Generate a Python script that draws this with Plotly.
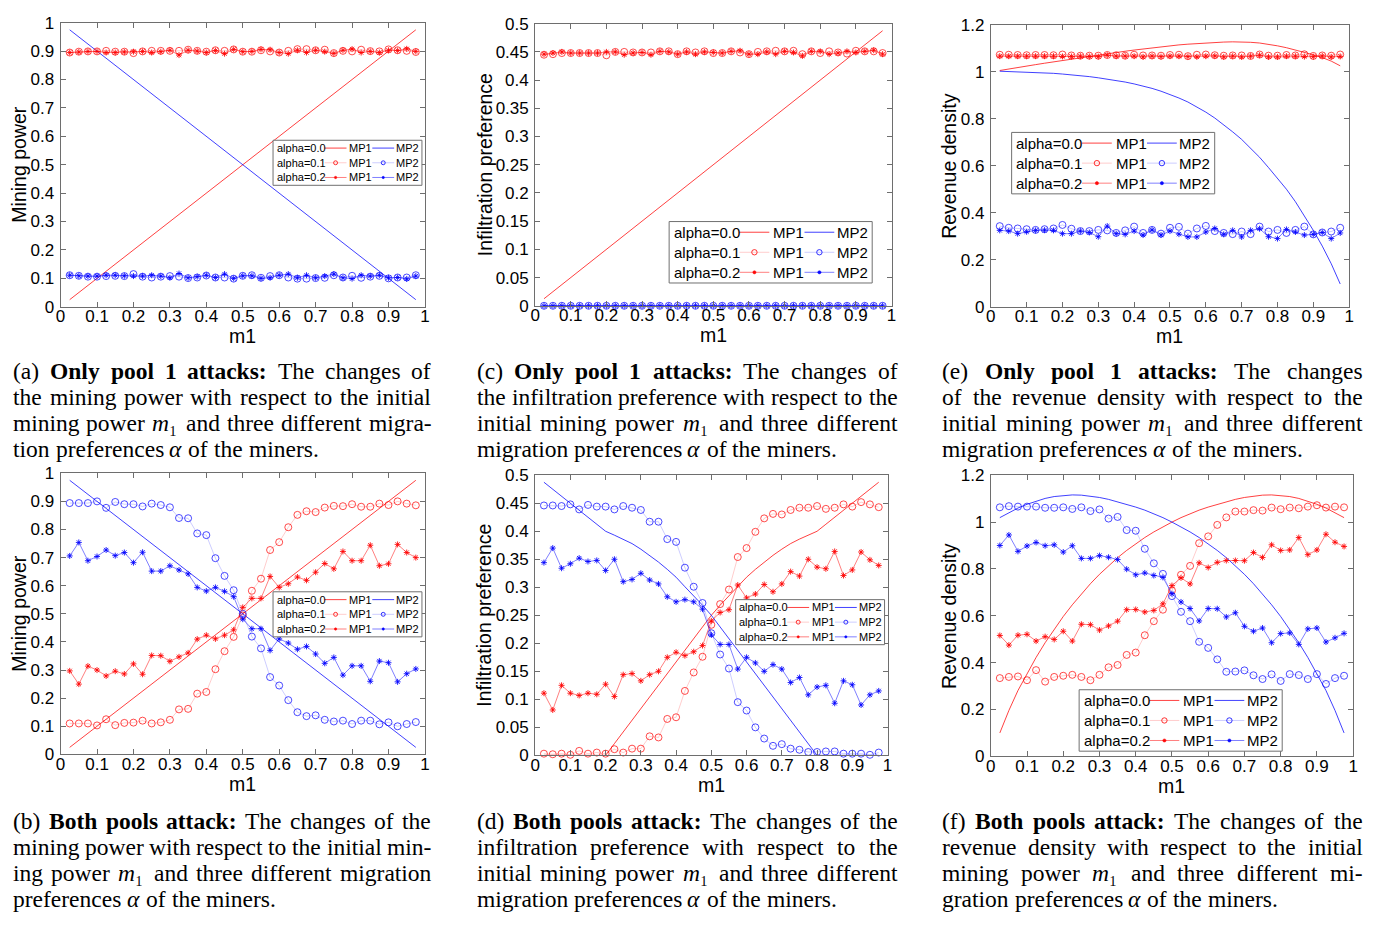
import plotly.graph_objects as go

# ------------------------------------------------------------------ data
m1 = [0.025, 0.05, 0.075, 0.1, 0.125, 0.15, 0.175, 0.2, 0.225, 0.25, 0.275, 0.3, 0.325,
      0.35, 0.375, 0.4, 0.425, 0.45, 0.475, 0.5, 0.525, 0.55, 0.575, 0.6, 0.625, 0.65,
      0.675, 0.7, 0.725, 0.75, 0.775, 0.8, 0.825, 0.85, 0.875, 0.9, 0.925, 0.95, 0.975]

x_ticks = [0, 0.1, 0.2, 0.3, 0.4, 0.5, 0.6, 0.7, 0.8, 0.9, 1.0]
x_ticklabels = ["0", "0.1", "0.2", "0.3", "0.4", "0.5", "0.6", "0.7", "0.8", "0.9", "1"]
mp_ticks = [0, 0.1, 0.2, 0.3, 0.4, 0.5, 0.6, 0.7, 0.8, 0.9, 1.0]
mp_ticklabels = ["0", "0.1", "0.2", "0.3", "0.4", "0.5", "0.6", "0.7", "0.8", "0.9", "1"]
ip_ticks = [0, 0.05, 0.1, 0.15, 0.2, 0.25, 0.3, 0.35, 0.4, 0.45, 0.5]
ip_ticklabels = ["0", "0.05", "0.1", "0.15", "0.2", "0.25", "0.3", "0.35", "0.4", "0.45", "0.5"]
rd_ticks = [0, 0.2, 0.4, 0.6, 0.8, 1.0, 1.2]
rd_ticklabels = ["0", "0.2", "0.4", "0.6", "0.8", "1", "1.2"]

zeros = [0.0, 0.0, 0.0, 0.0, 0.0, 0.0, 0.0, 0.0, 0.0, 0.0, 0.0, 0.0, 0.0, 0.0, 0.0, 0.0,
         0.0, 0.0, 0.0, 0.0, 0.0, 0.0, 0.0, 0.0, 0.0, 0.0, 0.0, 0.0, 0.0, 0.0, 0.0, 0.0,
         0.0, 0.0, 0.0, 0.0, 0.0, 0.0, 0.0]

# (a) only pool 1 attacks - mining power
a_mp1_a00 = [0.025, 0.05, 0.075, 0.1, 0.125, 0.15, 0.175, 0.2, 0.225, 0.25, 0.275, 0.3, 0.325,
             0.35, 0.375, 0.4, 0.425, 0.45, 0.475, 0.5, 0.525, 0.55, 0.575, 0.6, 0.625, 0.65,
             0.675, 0.7, 0.725, 0.75, 0.775, 0.8, 0.825, 0.85, 0.875, 0.9, 0.925, 0.95, 0.975]
a_mp2_a00 = [0.975, 0.95, 0.925, 0.9, 0.875, 0.85, 0.825, 0.8, 0.775, 0.75, 0.725, 0.7, 0.675,
             0.65, 0.625, 0.6, 0.575, 0.55, 0.525, 0.5, 0.475, 0.45, 0.425, 0.4, 0.375, 0.35,
             0.325, 0.3, 0.275, 0.25, 0.225, 0.2, 0.175, 0.15, 0.125, 0.1, 0.075, 0.05, 0.025]
a_mp1_a01 = [0.895, 0.898, 0.899, 0.899, 0.901, 0.898, 0.898, 0.893, 0.899, 0.901, 0.901, 0.901, 0.901,
             0.905, 0.901, 0.898, 0.903, 0.901, 0.906, 0.898, 0.898, 0.903, 0.899, 0.895, 0.901, 0.907,
             0.907, 0.903, 0.905, 0.893, 0.901, 0.899, 0.905, 0.900, 0.899, 0.906, 0.903, 0.901, 0.897]
a_mp2_a01 = [0.111, 0.109, 0.106, 0.106, 0.108, 0.109, 0.108, 0.115, 0.106, 0.103, 0.106, 0.108, 0.106,
             0.101, 0.103, 0.110, 0.103, 0.103, 0.099, 0.109, 0.111, 0.102, 0.108, 0.111, 0.103, 0.099,
             0.099, 0.101, 0.102, 0.111, 0.103, 0.109, 0.102, 0.106, 0.109, 0.100, 0.103, 0.103, 0.111]
a_mp1_a02 = [0.895, 0.897, 0.899, 0.899, 0.895, 0.895, 0.897, 0.898, 0.899, 0.895, 0.898, 0.903, 0.886,
             0.903, 0.900, 0.895, 0.902, 0.891, 0.906, 0.898, 0.899, 0.906, 0.905, 0.895, 0.891, 0.903,
             0.895, 0.903, 0.898, 0.892, 0.903, 0.907, 0.895, 0.899, 0.895, 0.903, 0.902, 0.908, 0.899]
a_mp2_a02 = [0.111, 0.109, 0.108, 0.108, 0.111, 0.111, 0.109, 0.108, 0.108, 0.111, 0.108, 0.102, 0.117,
             0.102, 0.106, 0.111, 0.103, 0.115, 0.100, 0.109, 0.109, 0.100, 0.102, 0.111, 0.115, 0.102,
             0.111, 0.102, 0.108, 0.115, 0.102, 0.099, 0.111, 0.108, 0.111, 0.102, 0.103, 0.098, 0.108]

# (b) both pools attack - mining power
b_mp1_a00 = a_mp1_a00
b_mp2_a00 = a_mp2_a00
b_mp1_a01 = [0.110, 0.110, 0.110, 0.103, 0.125, 0.104, 0.112, 0.113, 0.120, 0.110, 0.114, 0.123, 0.160,
             0.162, 0.216, 0.222, 0.303, 0.367, 0.418, 0.494, 0.582, 0.625, 0.727, 0.755, 0.808, 0.852,
             0.865, 0.862, 0.878, 0.884, 0.883, 0.890, 0.881, 0.881, 0.892, 0.887, 0.900, 0.892, 0.886]
b_mp2_a01 = [0.894, 0.894, 0.894, 0.900, 0.877, 0.898, 0.890, 0.890, 0.882, 0.892, 0.887, 0.879, 0.841,
             0.840, 0.786, 0.780, 0.698, 0.635, 0.584, 0.500, 0.419, 0.377, 0.275, 0.245, 0.193, 0.150,
             0.136, 0.139, 0.123, 0.117, 0.120, 0.108, 0.120, 0.120, 0.107, 0.114, 0.100, 0.108, 0.115]
b_mp1_a02 = [0.297, 0.250, 0.314, 0.300, 0.279, 0.296, 0.286, 0.322, 0.285, 0.352, 0.351, 0.331, 0.347,
             0.361, 0.410, 0.424, 0.411, 0.424, 0.443, 0.523, 0.555, 0.555, 0.633, 0.594, 0.607, 0.631,
             0.619, 0.648, 0.679, 0.660, 0.722, 0.689, 0.689, 0.744, 0.671, 0.678, 0.747, 0.718, 0.700]
b_mp2_a02 = [0.706, 0.754, 0.689, 0.704, 0.727, 0.707, 0.718, 0.682, 0.719, 0.652, 0.652, 0.671, 0.656,
             0.642, 0.594, 0.581, 0.594, 0.580, 0.561, 0.481, 0.447, 0.447, 0.370, 0.411, 0.396, 0.374,
             0.384, 0.357, 0.324, 0.345, 0.282, 0.315, 0.315, 0.260, 0.332, 0.326, 0.258, 0.287, 0.304]

# (c) only pool 1 attacks - infiltration preference
c_mp1_a00 = [0.0125, 0.025, 0.0375, 0.05, 0.0625, 0.075, 0.0875, 0.1, 0.1125, 0.125, 0.1375, 0.15,
             0.1625, 0.175, 0.1875, 0.2, 0.2125, 0.225, 0.2375, 0.25, 0.2625, 0.275, 0.2875, 0.3,
             0.3125, 0.325, 0.3375, 0.35, 0.3625, 0.375, 0.3875, 0.4, 0.4125, 0.425, 0.4375, 0.45,
             0.4625, 0.475, 0.4875]
c_mp2_a00 = zeros
c_mp1_a01 = [0.445, 0.446, 0.448, 0.448, 0.448, 0.448, 0.448, 0.444, 0.450, 0.450, 0.449, 0.449, 0.449,
             0.451, 0.451, 0.446, 0.451, 0.449, 0.451, 0.448, 0.448, 0.451, 0.449, 0.446, 0.450, 0.451,
             0.452, 0.451, 0.452, 0.446, 0.451, 0.448, 0.451, 0.449, 0.447, 0.452, 0.451, 0.451, 0.448]
c_mp2_a01 = zeros
c_mp1_a02 = [0.446, 0.448, 0.450, 0.448, 0.448, 0.448, 0.448, 0.450, 0.450, 0.445, 0.448, 0.449, 0.445,
             0.451, 0.450, 0.446, 0.450, 0.446, 0.450, 0.449, 0.448, 0.451, 0.452, 0.446, 0.446, 0.450,
             0.446, 0.451, 0.449, 0.443, 0.451, 0.451, 0.446, 0.448, 0.451, 0.449, 0.451, 0.453, 0.446]
c_mp2_a02 = zeros

# (d) both pools attack - infiltration preference
d_mp1_a00 = [0.0, 0.0, 0.0, 0.0, 0.0, 0.0, 0.0, 0.0, 0.021, 0.042, 0.063, 0.083, 0.104, 0.125, 0.146,
             0.167, 0.188, 0.208, 0.229, 0.250, 0.268, 0.285, 0.301, 0.318, 0.332, 0.345, 0.357, 0.368,
             0.378, 0.386, 0.393, 0.400, 0.4125, 0.425, 0.4375, 0.450, 0.4625, 0.475, 0.4875]
d_mp2_a00 = [0.4875, 0.475, 0.4625, 0.450, 0.4375, 0.425, 0.4125, 0.400, 0.393, 0.386, 0.378, 0.368,
             0.357, 0.345, 0.332, 0.318, 0.301, 0.285, 0.268, 0.250, 0.229, 0.208, 0.188, 0.167, 0.146,
             0.125, 0.104, 0.083, 0.063, 0.042, 0.021, 0.0, 0.0, 0.0, 0.0, 0.0, 0.0, 0.0, 0.0]
d_mp1_a01 = [0.003, 0.002, 0.003, 0.001, 0.008, 0.003, 0.005, 0.003, 0.011, 0.005, 0.012, 0.012, 0.034,
             0.032, 0.065, 0.068, 0.115, 0.148, 0.176, 0.233, 0.270, 0.296, 0.354, 0.370, 0.399, 0.423,
             0.431, 0.430, 0.438, 0.442, 0.442, 0.445, 0.440, 0.442, 0.448, 0.444, 0.452, 0.448, 0.443]
d_mp2_a01 = [0.446, 0.446, 0.445, 0.448, 0.439, 0.447, 0.444, 0.444, 0.439, 0.445, 0.442, 0.438, 0.417,
             0.417, 0.386, 0.381, 0.335, 0.301, 0.272, 0.218, 0.180, 0.155, 0.095, 0.080, 0.050, 0.030,
             0.017, 0.020, 0.012, 0.010, 0.006, 0.006, 0.007, 0.007, 0.003, 0.003, 0.003, 0.001, 0.005]
d_mp1_a02 = [0.111, 0.081, 0.125, 0.111, 0.107, 0.111, 0.109, 0.127, 0.105, 0.144, 0.146, 0.133, 0.144,
             0.150, 0.175, 0.184, 0.178, 0.185, 0.196, 0.240, 0.255, 0.260, 0.304, 0.281, 0.288, 0.305,
             0.292, 0.306, 0.328, 0.320, 0.350, 0.336, 0.333, 0.364, 0.321, 0.331, 0.363, 0.349, 0.339]
d_mp2_a02 = [0.344, 0.370, 0.334, 0.342, 0.352, 0.346, 0.348, 0.330, 0.350, 0.310, 0.314, 0.325, 0.313,
             0.306, 0.283, 0.274, 0.278, 0.274, 0.261, 0.215, 0.198, 0.198, 0.154, 0.175, 0.165, 0.150,
             0.162, 0.154, 0.130, 0.139, 0.108, 0.122, 0.125, 0.093, 0.133, 0.126, 0.090, 0.108, 0.115]

# (e) only pool 1 attacks - revenue density
e_mp1_a00 = [1.005, 1.012, 1.018, 1.024, 1.030, 1.036, 1.042, 1.048, 1.054, 1.060, 1.066, 1.071, 1.077,
             1.082, 1.087, 1.092, 1.097, 1.102, 1.107, 1.111, 1.114, 1.117, 1.120, 1.122, 1.124, 1.126,
             1.127, 1.127, 1.125, 1.122, 1.117, 1.110, 1.102, 1.093, 1.083, 1.072, 1.060, 1.045, 1.025]
e_mp2_a00 = [1.002, 1.001, 1.000, 0.999, 0.997, 0.995, 0.993, 0.990, 0.987, 0.983, 0.979, 0.974, 0.969,
             0.963, 0.956, 0.948, 0.939, 0.929, 0.917, 0.903, 0.888, 0.871, 0.851, 0.828, 0.803, 0.775,
             0.744, 0.712, 0.676, 0.636, 0.592, 0.548, 0.500, 0.447, 0.388, 0.325, 0.258, 0.183, 0.097]
e_mp1_a01 = [1.072, 1.072, 1.071, 1.070, 1.071, 1.071, 1.070, 1.073, 1.069, 1.068, 1.068, 1.068, 1.071,
             1.070, 1.068, 1.072, 1.069, 1.069, 1.068, 1.071, 1.072, 1.066, 1.072, 1.073, 1.070, 1.068,
             1.069, 1.069, 1.067, 1.073, 1.068, 1.068, 1.071, 1.069, 1.074, 1.067, 1.069, 1.068, 1.073]
e_mp2_a01 = [0.343, 0.336, 0.333, 0.330, 0.327, 0.330, 0.333, 0.348, 0.332, 0.322, 0.322, 0.327, 0.325,
             0.314, 0.325, 0.341, 0.314, 0.327, 0.311, 0.336, 0.340, 0.311, 0.333, 0.344, 0.322, 0.314,
             0.309, 0.320, 0.309, 0.341, 0.320, 0.327, 0.314, 0.327, 0.341, 0.308, 0.316, 0.320, 0.336]
e_mp1_a02 = [1.066, 1.066, 1.066, 1.066, 1.066, 1.066, 1.066, 1.065, 1.065, 1.066, 1.065, 1.064, 1.070,
             1.066, 1.066, 1.066, 1.063, 1.066, 1.064, 1.066, 1.066, 1.064, 1.063, 1.066, 1.067, 1.063,
             1.066, 1.063, 1.066, 1.070, 1.063, 1.063, 1.066, 1.066, 1.064, 1.064, 1.067, 1.063, 1.065]
e_mp2_a02 = [0.325, 0.322, 0.311, 0.319, 0.325, 0.326, 0.325, 0.311, 0.311, 0.322, 0.316, 0.298, 0.343,
             0.311, 0.308, 0.322, 0.305, 0.327, 0.305, 0.322, 0.309, 0.297, 0.297, 0.318, 0.333, 0.308,
             0.325, 0.297, 0.325, 0.332, 0.298, 0.290, 0.329, 0.318, 0.305, 0.308, 0.316, 0.290, 0.314]

# (f) both pools attack - revenue density
f_mp1_a00 = [0.100, 0.196, 0.281, 0.354, 0.422, 0.485, 0.543, 0.597, 0.647, 0.694, 0.737, 0.777, 0.814,
             0.848, 0.879, 0.908, 0.934, 0.958, 0.980, 1.000, 1.019, 1.036, 1.051, 1.064, 1.076, 1.087,
             1.097, 1.105, 1.111, 1.115, 1.116, 1.114, 1.109, 1.101, 1.090, 1.076, 1.060, 1.041, 1.019]
f_mp2_a00 = [1.019, 1.041, 1.060, 1.076, 1.090, 1.101, 1.109, 1.114, 1.116, 1.115, 1.111, 1.105, 1.097,
             1.087, 1.076, 1.064, 1.051, 1.036, 1.019, 1.000, 0.980, 0.958, 0.934, 0.908, 0.879, 0.848,
             0.814, 0.777, 0.737, 0.694, 0.647, 0.597, 0.543, 0.485, 0.422, 0.354, 0.281, 0.196, 0.100]
f_mp1_a01 = [0.334, 0.339, 0.341, 0.325, 0.368, 0.319, 0.339, 0.344, 0.348, 0.339, 0.325, 0.348, 0.380,
             0.390, 0.433, 0.443, 0.517, 0.577, 0.626, 0.708, 0.775, 0.813, 0.910, 0.939, 0.988, 1.020,
             1.045, 1.045, 1.051, 1.049, 1.062, 1.055, 1.062, 1.059, 1.066, 1.072, 1.062, 1.066, 1.063]
f_mp2_a01 = [1.063, 1.068, 1.066, 1.066, 1.066, 1.061, 1.061, 1.063, 1.056, 1.063, 1.047, 1.054, 1.015,
             1.022, 0.966, 0.963, 0.886, 0.824, 0.779, 0.684, 0.617, 0.577, 0.489, 0.463, 0.414, 0.361,
             0.362, 0.367, 0.346, 0.330, 0.350, 0.322, 0.351, 0.347, 0.330, 0.351, 0.309, 0.334, 0.344]
f_mp1_a02 = [0.516, 0.475, 0.517, 0.521, 0.492, 0.511, 0.499, 0.534, 0.492, 0.564, 0.562, 0.539, 0.557,
             0.577, 0.626, 0.627, 0.616, 0.623, 0.651, 0.729, 0.762, 0.736, 0.826, 0.806, 0.828, 0.836,
             0.836, 0.835, 0.870, 0.849, 0.903, 0.879, 0.881, 0.934, 0.861, 0.881, 0.948, 0.914, 0.896]
f_mp2_a02 = [0.900, 0.945, 0.875, 0.898, 0.913, 0.899, 0.903, 0.872, 0.899, 0.845, 0.845, 0.857, 0.850,
             0.840, 0.799, 0.775, 0.783, 0.772, 0.764, 0.694, 0.659, 0.631, 0.578, 0.631, 0.630, 0.595,
             0.613, 0.555, 0.534, 0.548, 0.485, 0.524, 0.527, 0.478, 0.544, 0.548, 0.488, 0.506, 0.525]

legend_rows = ["alpha=0.0", "alpha=0.1", "alpha=0.2"]
legend_names = ["MP1", "MP2"]

captions = {
    "a": ["(a) **Only** **pool** **1** **attacks:** The changes of",
          "the mining power with respect to the initial",
          "mining power $m1$ and three different migra-",
          "tion preferences $a$ of the miners."],
    "c": ["(c) **Only** **pool** **1** **attacks:** The changes of",
          "the infiltration preference with respect to the",
          "initial mining power $m1$ and three different",
          "migration preferences $a$ of the miners."],
    "e": ["(e) **Only** **pool** **1** **attacks:** The changes",
          "of the revenue density with respect to the",
          "initial mining power $m1$ and three different",
          "migration preferences $a$ of the miners."],
    "b": ["(b) **Both** **pools** **attack:** The changes of the",
          "mining power with respect to the initial min-",
          "ing power $m1$ and three different migration",
          "preferences $a$ of the miners."],
    "d": ["(d) **Both** **pools** **attack:** The changes of the",
          "infiltration preference with respect to the",
          "initial mining power $m1$ and three different",
          "migration preferences $a$ of the miners."],
    "f": ["(f) **Both** **pools** **attack:** The changes of the",
          "revenue density with respect to the initial",
          "mining power $m1$ and three different mi-",
          "gration preferences $a$ of the miners."],
}

# ------------------------------------------------------------------ page geometry
W, H = 1376, 926
SANS = "Liberation Sans, Arial, Helvetica, sans-serif"
SERIF = "Liberation Serif, Times New Roman, serif"
FRAME = "#6e6e6e"
RED = "255,0,0"
BLUE = "0,0,255"


def fx(p):
    return p / W


def fy(p):
    return 1 - p / H


def rgba(c, a):
    return f"rgba({c},{a})"


panels = [
    dict(key="a", box=(56, 14, 423, 304), yr=[0, 1], yt=(mp_ticks, mp_ticklabels),
         ytitle="Mining power", ytx=14,
         series=[(a_mp1_a00, a_mp2_a00), (a_mp1_a01, a_mp2_a01), (a_mp1_a02, a_mp2_a02)],
         legend=(270, 134, 11), cap=(7, 428, "top")),
    dict(key="c", box=(534, 15, 893, 303), yr=[0, 0.5], yt=(ip_ticks, ip_ticklabels),
         ytitle="Infiltration preference", ytx=483,
         series=[(c_mp1_a00, c_mp2_a00), (c_mp1_a01, c_mp2_a01), (c_mp1_a02, c_mp2_a02)],
         legend=(669, 217, 15), cap=(474, 898, "top")),
    dict(key="e", box=(993, 16, 1354, 304), yr=[0, 1.2], yt=(rd_ticks, rd_ticklabels),
         ytitle="Revenue density", ytx=951,
         series=[(e_mp1_a00, e_mp2_a00), (e_mp1_a01, e_mp2_a01), (e_mp1_a02, e_mp2_a02)],
         legend=(1014, 126, 15), cap=(943, 1366, "top")),
    dict(key="b", box=(56, 474, 423, 761), yr=[0, 1], yt=(mp_ticks, mp_ticklabels),
         ytitle="Mining power", ytx=14,
         series=[(b_mp1_a00, b_mp2_a00), (b_mp1_a01, b_mp2_a01), (b_mp1_a02, b_mp2_a02)],
         legend=(270, 595, 11), cap=(7, 428, "bottom")),
    dict(key="d", box=(534, 476, 889, 762), yr=[0, 0.5], yt=(ip_ticks, ip_ticklabels),
         ytitle="Infiltration preference", ytx=483,
         series=[(d_mp1_a00, d_mp2_a00), (d_mp1_a01, d_mp2_a01), (d_mp1_a02, d_mp2_a02)],
         legend=(736, 603, 11), cap=(474, 898, "bottom")),
    dict(key="f", box=(993, 476, 1358, 763), yr=[0, 1.2], yt=(rd_ticks, rd_ticklabels),
         ytitle="Revenue density", ytx=951,
         series=[(f_mp1_a00, f_mp2_a00), (f_mp1_a01, f_mp2_a01), (f_mp1_a02, f_mp2_a02)],
         legend=(1082, 695, 15), cap=(943, 1366, "bottom")),
]

CAPTION_BASELINES = {"top": [376.0, 402.5, 429.0, 455.5],
                     "bottom": [836.0, 862.5, 889.0, 915.5]}
CAP_FS = 23.5


def trace_style(row, c):
    if row == 0:
        return dict(mode="lines", line=dict(color=rgba(c, 0.75), width=1))
    if row == 1:
        return dict(mode="lines+markers", line=dict(color=rgba(c, 0.2), width=1),
                    marker=dict(symbol="circle-open", size=7, color=rgba(c, 0.7),
                                line=dict(width=1)))
    return dict(mode="lines+markers", line=dict(color=rgba(c, 0.5), width=1),
                marker=dict(symbol="asterisk-open", size=5, color=rgba(c, 0.85),
                            line=dict(width=1)))


fig = go.Figure()
shapes = []
annotations = []
layout_axes = {}

for i, p in enumerate(panels, start=1):
    sfx = "" if i == 1 else str(i)
    x0, y0, x1, y1 = p["box"]
    for row, (s1, s2) in enumerate(p["series"]):
        for vals, c in ((s1, RED), (s2, BLUE)):
            fig.add_trace(go.Scatter(x=m1, y=vals, xaxis="x" + sfx, yaxis="y" + sfx,
                                     showlegend=False, cliponaxis=False, hoverinfo="skip",
                                     **trace_style(row, c)))
    common = dict(showline=True, linecolor=FRAME, linewidth=1, mirror="ticks",
                  ticks="inside", ticklen=5, tickwidth=1, tickcolor=FRAME,
                  showgrid=False, zeroline=False,
                  tickfont=dict(family=SANS, size=17, color="black"))
    layout_axes["xaxis" + sfx] = dict(common, domain=[fx(x0), fx(x1)], anchor="y" + sfx,
                                      range=[0, 1], tickmode="array", tickvals=x_ticks,
                                      ticktext=x_ticklabels, ticklabelstandoff=-6)
    layout_axes["yaxis" + sfx] = dict(common, domain=[fy(y1), fy(y0)], anchor="x" + sfx,
                                      range=p["yr"], tickmode="array", tickvals=p["yt"][0],
                                      ticktext=p["yt"][1], ticklabelstandoff=2)

    # axis titles
    annotations.append(dict(text=p["ytitle"], x=fx(p["ytx"]), y=fy((y0 + y1) / 2),
                            xref="paper", yref="paper", textangle=-90, showarrow=False,
                            xanchor="center", yanchor="middle",
                            font=dict(family=SANS, size=19.5, color="black")))
    annotations.append(dict(text="m1", x=fx((x0 + x1) / 2), y=fy(y1 + 30),
                            xref="paper", yref="paper", showarrow=False,
                            xanchor="center", yanchor="middle", borderpad=0,
                            font=dict(family=SANS, size=19.5, color="black")))

    # boxed legend: one row per alpha, MP1 and MP2 samples side by side
    lx, ly, lfs = p["legend"]
    s = lfs / 11.0
    shapes.append(dict(type="rect", xref="paper", yref="paper", layer="above",
                       x0=fx(lx), x1=fx(lx + 150 * s), y0=fy(ly + 46 * s), y1=fy(ly),
                       fillcolor="white", line=dict(color="#707070", width=1)))
    for r, label in enumerate(legend_rows):
        yc = ly + (8 + 15 * r) * s
        annotations.append(dict(text=label, x=fx(lx + 2.5 * s), y=fy(yc), xref="paper",
                                yref="paper", showarrow=False, xanchor="left",
                                yanchor="middle", borderpad=0,
                                font=dict(family=SANS, size=lfs, color="black")))
        for j, c in enumerate((RED, BLUE)):
            sx0 = lx + (52 + 48 * j) * s
            sx1 = sx0 + 22 * s
            st = trace_style(r, c)
            shapes.append(dict(type="line", xref="paper", yref="paper", layer="above",
                               x0=fx(sx0), x1=fx(sx1), y0=fy(yc), y1=fy(yc),
                               line=dict(color=st["line"]["color"], width=1)))
            cx = (sx0 + sx1) / 2
            if r == 1:
                rr = 2.0 * s
                shapes.append(dict(type="circle", xref="paper", yref="paper", layer="above",
                                   x0=fx(cx - rr), x1=fx(cx + rr), y0=fy(yc + rr),
                                   y1=fy(yc - rr), line=dict(color=rgba(c, 0.8), width=1)))
            elif r == 2:
                rr = 1.2 * s
                shapes.append(dict(type="circle", xref="paper", yref="paper", layer="above",
                                   x0=fx(cx - rr), x1=fx(cx + rr), y0=fy(yc + rr),
                                   y1=fy(yc - rr), fillcolor=rgba(c, 0.95),
                                   line=dict(color=rgba(c, 0.95), width=0.5)))
            annotations.append(dict(text=legend_names[j], x=fx(lx + (76 + 47 * j) * s),
                                    y=fy(yc), xref="paper", yref="paper", showarrow=False,
                                    xanchor="left", yanchor="middle", borderpad=0,
                                    font=dict(family=SANS, size=lfs, color="black")))

# ------------------------------------------------------------------ justified captions
REG = {'a': .444, 'b': .5, 'c': .444, 'd': .5, 'e': .444, 'f': .333, 'g': .5, 'h': .5,
       'i': .278, 'j': .278, 'k': .5, 'l': .278, 'm': .778, 'n': .5, 'o': .5, 'p': .5,
       'q': .5, 'r': .333, 's': .389, 't': .278, 'u': .5, 'v': .5, 'w': .722, 'x': .5,
       'y': .5, 'z': .444, 'T': .611, '(': .333, ')': .333, '.': .25, ',': .25, '-': .333,
       ':': .278}
BOLD = {'a': .5, 'c': .444, 'h': .556, 'k': .556, 'l': .278, 'n': .556, 'o': .5, 'p': .556,
        's': .389, 't': .333, 'y': .5, 'O': .778, 'B': .667, '1': .5, ':': .333}


def word_width(tok, fs):
    if tok == "$m1$":
        return 1.15 * fs
    if tok == "$a$":
        return 0.55 * fs
    if tok.startswith("**"):
        return sum(BOLD.get(ch, 0.5) for ch in tok[2:-2]) * fs
    return sum(REG.get(ch, 0.5) for ch in tok) * fs


def word_html(tok):
    if tok == "$m1$":
        return "<i>m</i>₁"
    if tok == "$a$":
        return "<i>α</i>"
    if tok.startswith("**"):
        return "<b>" + tok[2:-2] + "</b>"
    return tok


for p in panels:
    left, right, rowpos = p["cap"]
    lines = captions[p["key"]]
    for li, line in enumerate(lines):
        words = line.split(" ")
        widths = [word_width(w, CAP_FS) for w in words]
        last = li == len(lines) - 1
        if last or len(words) == 1:
            gap = 0.27 * CAP_FS
        else:
            gap = (right - left - sum(widths)) / (len(words) - 1)
        base = CAPTION_BASELINES[rowpos][li]
        xpos = left
        for w, wd in zip(words, widths):
            annotations.append(dict(text=word_html(w), x=fx(xpos), y=fy(base - 0.891 * CAP_FS),
                                    xref="paper", yref="paper", showarrow=False,
                                    xanchor="left", yanchor="top", borderpad=0,
                                    font=dict(family=SERIF, size=CAP_FS, color="black")))
            xpos += wd + gap

fig.update_layout(
    width=W, height=H,
    margin=dict(l=0, r=0, t=0, b=0),
    paper_bgcolor="white", plot_bgcolor="white",
    showlegend=False,
    shapes=shapes, annotations=annotations,
    **layout_axes,
)

fig.write_html("out.html")
